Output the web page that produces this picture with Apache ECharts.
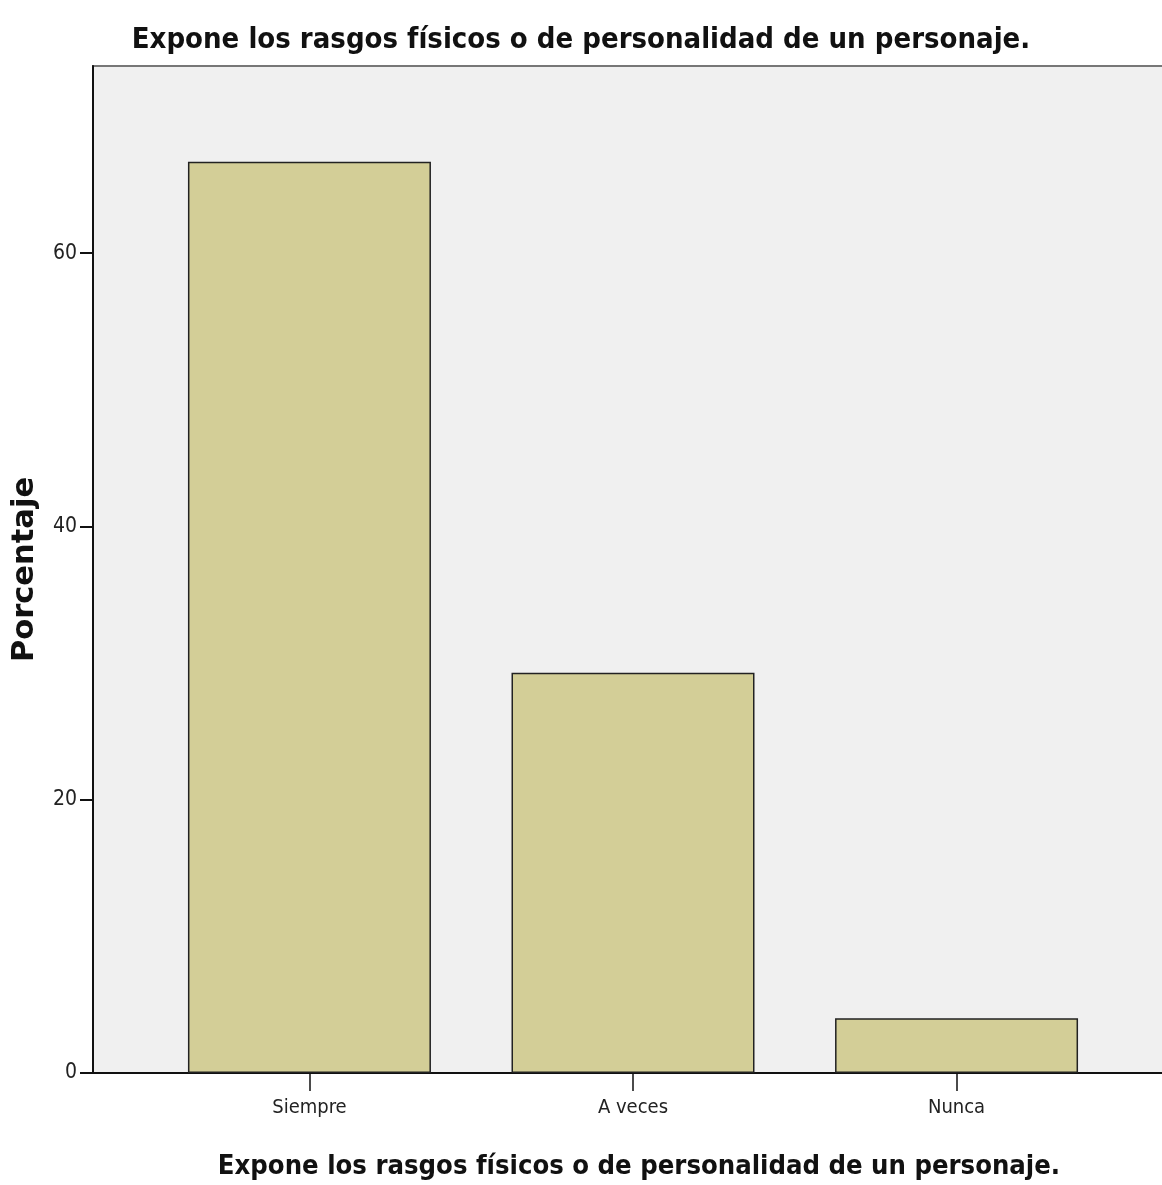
<!DOCTYPE html>
<html>
<head>
<meta charset="utf-8">
<script src="https://cdn.jsdelivr.net/npm/echarts@6/dist/echarts.min.js"></script>
<style>
html,body{margin:0;padding:0;background:#fff;}
#chart{width:1162px;height:1185px;}
</style>
</head>
<body>
<div id="chart"></div>
<script>
const categories = ['Siempre', 'A veces', 'Nunca'];
const percentages = [66.7, 29.3, 4.0];
const yTicks = [0, 20, 40, 60];
const chartTitle = 'Expone los rasgos físicos o de personalidad de un personaje.';
const xTitle = 'Expone los rasgos físicos o de personalidad de un personaje.';
const yTitle = 'Porcentaje';

const positions = categories.map((c, i) => i + 1);
const barData = positions.map((p, i) => [p, percentages[i]]);

const chart = echarts.init(document.getElementById('chart'), null, {renderer: 'canvas'});
chart.setOption({
  animation: false,
  backgroundColor: '#ffffff',
  title: [
    {
      text: chartTitle, left: 'center', top: 21,
      textStyle: {fontFamily: 'DejaVu Sans Condensed, sans-serif', fontWeight: 'bold', fontSize: 29, color: '#111'}
    },
    {
      text: xTitle, left: 634, textAlign: 'center', top: 1148,
      textStyle: {fontFamily: 'DejaVu Sans Condensed, DejaVu Sans, sans-serif', fontWeight: 'bold', fontSize: 27.2, color: '#111'}
    }
  ],
  grid: {
    left: 93, top: 66, width: 1080, bottom: 112,
    outerBoundsMode: 'none', containLabel: false,
    show: true, backgroundColor: '#F0F0F0', borderColor: '#777', borderWidth: 2
  },
  xAxis: {
    type: 'value', min: 0.331, max: 3.669,
    splitLine: {show: false},
    axisLine: {show: true, onZero: false, lineStyle: {color: '#111', width: 2}},
    axisTick: {show: true, customValues: positions, length: 18, lineStyle: {color: '#111', width: 1.5}},
    axisLabel: {
      customValues: positions, margin: 25,
      formatter: v => categories[Math.round(v) - 1] || '',
      fontFamily: 'DejaVu Sans Condensed, sans-serif', fontSize: 20, color: '#222'
    }
  },
  yAxis: {
    type: 'value', min: 0, max: 73.7,
    name: yTitle, nameLocation: 'middle', nameRotate: 90, nameGap: 52,
    nameTextStyle: {fontFamily: 'DejaVu Sans, sans-serif', fontWeight: 'bold', fontSize: 30.5, color: '#111'},
    splitLine: {show: false},
    axisLine: {show: true, lineStyle: {color: '#111', width: 2}},
    axisTick: {show: true, customValues: yTicks, length: 13, lineStyle: {color: '#111', width: 2}},
    axisLabel: {
      customValues: yTicks, margin: 16,
      fontFamily: 'DejaVu Sans Condensed, sans-serif', fontSize: 21, color: '#222'
    }
  },
  series: [{
    type: 'bar',
    data: barData,
    barWidth: 243,
    itemStyle: {color: '#D3CE97', borderColor: '#222', borderWidth: 1.5}
  }]
});
</script>
</body>
</html>
